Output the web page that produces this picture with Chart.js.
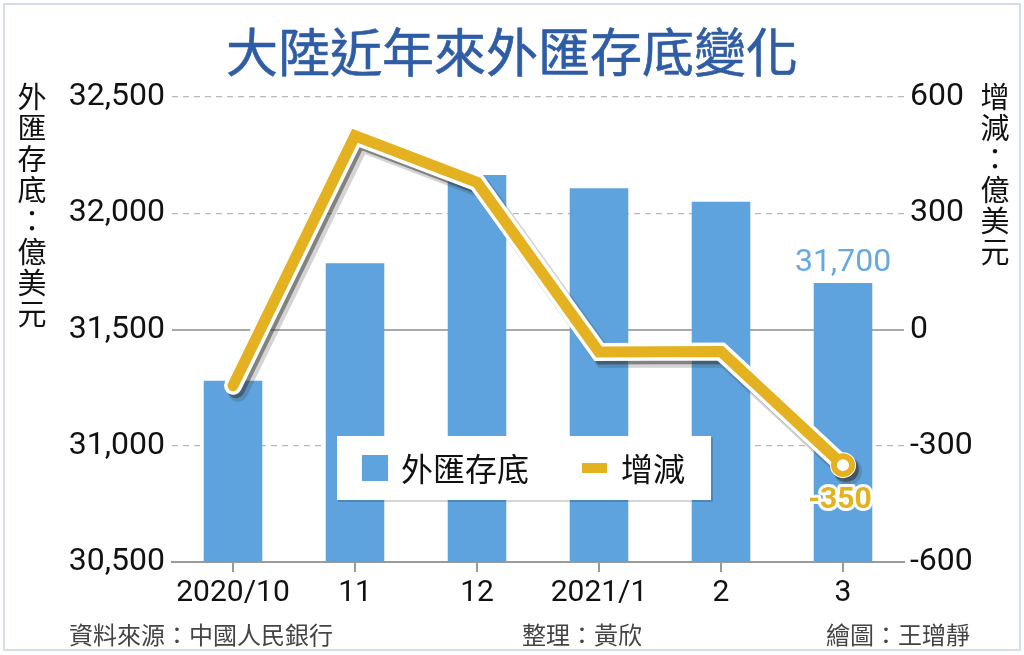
<!DOCTYPE html>
<html><head><meta charset="utf-8">
<script src="https://cdn.jsdelivr.net/npm/chart.js@4.4.1/dist/chart.umd.min.js"></script>
<style>
html,body{margin:0;padding:0;background:#fff;}
#wrap{position:relative;width:1024px;height:655px;overflow:hidden;background:#fff;}
#frame{position:absolute;left:3px;top:3px;width:1014px;height:644px;border:2px solid #d3dfea;}
canvas{position:absolute;left:0;top:0;}
.t{position:absolute;font-family:"Noto Sans CJK TC","Noto Sans CJK SC",sans-serif;white-space:nowrap;}
#title{left:0;width:1024px;text-align:center;top:20px;font-size:52px;line-height:60px;color:#2f5da5;font-weight:400;-webkit-text-stroke:0.6px #2f5da5;}
.vl{font-size:29px;line-height:31px;color:#111;text-align:center;width:40px;}
#ll{left:12px;top:80px;}
#rl{left:975px;top:80px;}
.ft{font-size:24px;line-height:30px;color:#444;top:619px;}
</style></head>
<body>
<div id="wrap">
<div id="frame"></div>
<canvas id="c" width="1024" height="655"></canvas>
<div id="title" class="t">大陸近年來外匯存底變化</div>
<div id="ll" class="t vl">外<br>匯<br>存<br>底<br>：<br>億<br>美<br>元</div>
<div id="rl" class="t vl">增<br>減<br>：<br>億<br>美<br>元</div>
<div class="t ft" style="left:69px;">資料來源：中國人民銀行</div>
<div class="t ft" style="left:522px;">整理：黃欣</div>
<div class="t ft" style="left:826px;">繪圖：王璔靜</div>
</div>
<script>
const categories = ['2020/10', '11', '12', '2021/1', '2', '3'];
const reserves = [31280, 31785, 32165, 32107, 32050, 31700];
const changes = [-145, 500, 380, -58, -57, -350];
const leftTicks = [30500, 31000, 31500, 32000, 32500];
const rightTicks = [-600, -300, 0, 300, 600];
const seriesNames = ['外匯存底', '增減'];

const BLUE = '#5ea3dd';
const YELLOW = '#e4b120';
const fmt = v => v.toLocaleString('en-US');
const solidVals = [31500, 30500];

const shadowPlugin = {
  id: 'shadow',
  beforeDatasetDraw(chart, args) {
    const ds = chart.data.datasets[args.index];
    if (ds.shadowShift) {
      const c = chart.ctx; c.save();
      c.translate(ds.shadowShift[0], ds.shadowShift[1]);
    }
  },
  afterDatasetDraw(chart, args) {
    if (chart.data.datasets[args.index].shadowShift) chart.ctx.restore();
  }
};

const overlayPlugin = {
  id: 'overlay',
  afterDatasetsDraw(chart) {
    const c = chart.ctx;
    const last = categories.length - 1;
    const bar = chart.getDatasetMeta(0).data[last];
    const pt = chart.getDatasetMeta(4).data[last];
    c.save();
    c.textAlign = 'center';
    c.font = '32px Roboto';
    c.fillStyle = '#64a9e0';
    c.textBaseline = 'alphabetic';
    c.fillText(fmt(reserves[last]), bar.x, bar.y - 12);
    c.font = 'bold 30px Roboto';
    c.textBaseline = 'middle';
    c.lineJoin = 'round';
    c.lineWidth = 6; c.strokeStyle = '#fff';
    c.strokeText(String(changes[last]), pt.x - 3, pt.y + 35);
    c.fillStyle = YELLOW;
    c.fillText(String(changes[last]), pt.x - 3, pt.y + 35);

    // legend
    c.fillStyle = 'rgba(0,0,0,0.16)';
    c.fillRect(338, 438, 375, 64);
    c.fillStyle = '#fff';
    c.fillRect(337, 436, 374, 64);
    c.fillStyle = BLUE;
    c.fillRect(362, 455, 26, 26);
    c.fillStyle = YELLOW;
    c.fillRect(582, 463, 25, 10);
    c.fillStyle = '#111';
    c.textAlign = 'left';
    c.textBaseline = 'middle';
    c.font = '32px "Noto Sans CJK TC"';
    c.fillText(chart.data.datasets[0].label, 401, 469);
    c.fillText(chart.data.datasets[4].label, 621, 469);
    c.restore();
  }
};

const lineBase = { type: 'line', data: changes, yAxisID: 'y1', borderCapStyle: 'round', borderJoinStyle: 'miter', tension: 0, clip: false };

new Chart(document.getElementById('c'), {
  data: {
    labels: categories,
    datasets: [
      { type: 'bar', label: seriesNames[0], data: reserves, yAxisID: 'y', backgroundColor: BLUE,
        barPercentage: 0.48, categoryPercentage: 1, order: 5 },
      Object.assign({}, lineBase, { label: 'shadow-soft', shadowShift: [5, 6], borderColor: 'rgba(60,60,60,0.22)', borderWidth: 20,
        pointRadius: [0, 0, 0, 0, 0, 14], pointBorderWidth: 0, pointBackgroundColor: 'rgba(60,60,60,0.22)', pointBorderColor: 'rgba(0,0,0,0)', order: 4 }),
      Object.assign({}, lineBase, { label: 'shadow', shadowShift: [3, 4], borderColor: 'rgba(50,50,50,0.5)', borderWidth: 17,
        pointRadius: [0, 0, 0, 0, 0, 13], pointBorderWidth: 0, pointBackgroundColor: 'rgba(50,50,50,0.5)', pointBorderColor: 'rgba(0,0,0,0)', order: 3 }),
      Object.assign({}, lineBase, { label: 'halo', borderColor: '#fff', borderWidth: 18,
        pointRadius: [0, 0, 0, 0, 0, 13], pointBorderWidth: 0, pointBackgroundColor: '#fff', pointBorderColor: '#fff', order: 2 }),
      Object.assign({}, lineBase, { label: seriesNames[1], borderColor: YELLOW, borderWidth: 11,
        pointRadius: [0, 0, 0, 0, 0, 9], pointBorderWidth: 6, pointBackgroundColor: '#fff', pointBorderColor: YELLOW, order: 1 })
    ]
  },
  options: {
    responsive: false,
    animation: false,
    events: [],
    layout: { padding: { top: 97, left: 0, right: 0, bottom: 0 } },
    plugins: { legend: { display: false }, tooltip: { enabled: false }, title: { display: false } },
    scales: {
      x: {
        offset: true,
        grid: { display: true, drawOnChartArea: false, drawTicks: true, tickLength: 10, offset: false, color: '#9a9a9a', lineWidth: 2 },
        border: { display: true, color: '#9a9a9a', width: 2 },
        ticks: { font: { family: 'Roboto', size: 30 }, color: '#111', padding: 3, maxRotation: 0, autoSkip: false },
        afterFit: s => { s.height = 93; }
      },
      y: {
        position: 'left', min: leftTicks[0], max: leftTicks[leftTicks.length - 1],
        afterBuildTicks: s => { s.ticks = leftTicks.map(v => ({ value: v })); },
        grid: {
          drawTicks: false,
          color: ctx => (ctx.tick && solidVals.includes(ctx.tick.value)) ? '#a8a8a8' : '#b8b8b8',
          lineWidth: ctx => (ctx.tick && solidVals.includes(ctx.tick.value)) ? 2 : 1.3
        },
        border: { display: false, dash: ctx => (ctx.tick && solidVals.includes(ctx.tick.value)) ? [] : [6, 5] },
        ticks: { font: { family: 'Roboto', size: 32 }, color: '#111', padding: 7, callback: v => fmt(v) },
        afterFit: s => { s.width = 172; }
      },
      y1: {
        position: 'right', min: rightTicks[0], max: rightTicks[rightTicks.length - 1],
        afterBuildTicks: s => { s.ticks = rightTicks.map(v => ({ value: v })); },
        grid: { display: false, drawTicks: false },
        border: { display: false },
        ticks: { font: { family: 'Roboto', size: 32 }, color: '#111', padding: 6, callback: v => String(v) },
        afterFit: s => { s.width = 120; }
      }
    }
  },
  plugins: [shadowPlugin, overlayPlugin]
});
</script>
</body></html>
